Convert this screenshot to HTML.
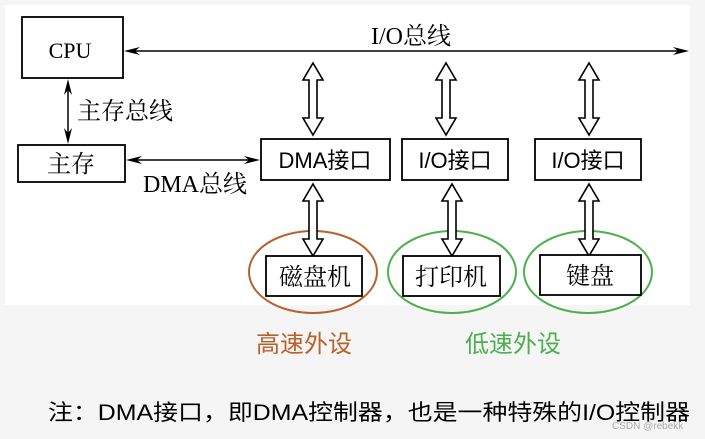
<!DOCTYPE html>
<html><head><meta charset="utf-8"><style>
body{margin:0;width:705px;height:439px;background:#f5f5f5;overflow:hidden}
svg{display:block}
.s{font-family:"Liberation Serif","Noto Serif CJK SC",serif}
.a{font-family:"Liberation Sans","Noto Sans CJK SC",sans-serif}
</style></head><body>
<svg width="705" height="439" viewBox="0 0 705 439">
<defs>
<g id="fa"><path d="M0,0 L10,17 L4,17 L4,55 L10,55 L0,72 L-10,55 L-4,55 L-4,17 L-10,17 Z" fill="#fff" stroke="#000" stroke-width="1.6" stroke-linejoin="miter"/></g>
</defs>
<rect x="5" y="5" width="685" height="300" fill="#fff"/>
<g fill="#fff" stroke="#000" stroke-width="1.8">
<rect x="22" y="17" width="101" height="61"/>
<rect x="18" y="145" width="107" height="37"/>
<rect x="261" y="139" width="129" height="41"/>
<rect x="402" y="139" width="106" height="41"/>
<rect x="535" y="139" width="106" height="41"/>
</g>
<g stroke="#000" stroke-width="1.5" fill="none">
<line x1="130" y1="51" x2="682" y2="51"/>
<line x1="68" y1="86" x2="68" y2="137"/>
<line x1="132" y1="160" x2="254" y2="160"/>
</g>
<g fill="#000">
<path d="M124,51 L140,47 L135,51 L140,55 Z"/>
<path d="M689,51 L673,47 L678,51 L673,55 Z"/>
<path d="M68,79 L64,95 L68,90 L72,95 Z"/>
<path d="M68,144 L64,128 L68,133 L72,128 Z"/>
<path d="M126,160 L142,156 L137,160 L142,164 Z"/>
<path d="M260,160 L244,156 L249,160 L244,164 Z"/>
</g>
<use href="#fa" transform="translate(313,63)"/>
<use href="#fa" transform="translate(446,63)"/>
<use href="#fa" transform="translate(589,63)"/>
<ellipse cx="313" cy="272" rx="64" ry="41" fill="none" stroke="#b8612a" stroke-width="2"/>
<ellipse cx="452" cy="272" rx="64" ry="41" fill="none" stroke="#4caf50" stroke-width="2"/>
<ellipse cx="588" cy="272" rx="64" ry="41" fill="none" stroke="#4caf50" stroke-width="2"/>
<use href="#fa" transform="translate(313,184)"/>
<use href="#fa" transform="translate(452,184)"/>
<use href="#fa" transform="translate(589,184)"/>
<g fill="#fff" stroke="#000" stroke-width="1.8">
<rect x="266" y="256" width="96" height="40"/>
<rect x="403" y="256" width="97" height="40"/>
<rect x="540" y="255" width="101" height="40"/>
</g>
<g font-size="24" fill="#000">
<text class="s" x="70" y="58" text-anchor="middle" font-size="22">CPU</text>
<text class="s" x="411" y="44" text-anchor="middle">I/O总线</text>
<text class="s" x="77" y="119">主存总线</text>
<text class="s" x="71" y="172" text-anchor="middle">主存</text>
<text class="s" x="143" y="192">DMA总线</text>
<text class="a" x="325" y="168" text-anchor="middle" font-size="22">DMA接口</text>
<text class="a" x="455" y="168" text-anchor="middle" font-size="22">I/O接口</text>
<text class="a" x="588" y="168" text-anchor="middle" font-size="22">I/O接口</text>
<text class="s" x="315" y="285" text-anchor="middle">磁盘机</text>
<text class="s" x="451" y="285" text-anchor="middle">打印机</text>
<text class="s" x="590" y="284" text-anchor="middle">键盘</text>
<text class="a" x="304" y="352" text-anchor="middle" fill="#b8612a">高速外设</text>
<text class="a" x="513" y="352" text-anchor="middle" fill="#4caf50">低速外设</text>
<text class="a" x="48" y="420" font-size="22" textLength="642" lengthAdjust="spacingAndGlyphs">注：DMA接口，即DMA控制器，也是一种特殊的I/O控制器</text>
</g>
<text class="a" x="612" y="429" font-size="10" fill="#aaa">CSDN @rebekk</text>
</svg>
</body></html>
